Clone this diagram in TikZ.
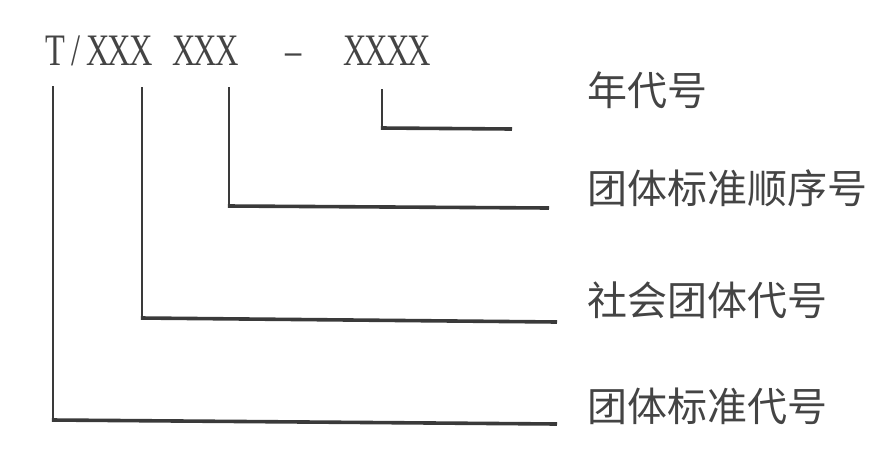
\documentclass[tikz,border=0pt]{standalone}
\usepackage{fontspec}
\usepackage{tikz}
\newfontfamily\cjk{Noto Sans CJK SC}
\newfontfamily\codefont[FakeStretch=0.72]{Liberation Serif}
\newcommand{\cell}[1]{\makebox[21.5pt]{#1}}
\definecolor{ink}{HTML}{444444}
\definecolor{rule}{HTML}{3A3A3A}

\begin{document}
\begin{tikzpicture}[x=1pt,y=-1pt,
    code/.style={inner sep=0pt,anchor=base west,text=ink,font=\codefont\fontsize{45}{45}\selectfont},
    lab/.style={inner sep=0pt,anchor=west,text=ink,font=\cjk\fontsize{40}{40}\selectfont},
    vline/.style={draw=rule,line width=2.2pt},
    hline/.style={draw=rule,line width=3.6pt}]
            \useasboundingbox (0,0) rectangle (895,467);
            % code
            \node[code] (std) at (44,65) {\cell{T}\cell{/}\cell{X}\cell{X}\cell{X}};
            \node[code] (seq) at (173,65) {\cell{X}\cell{X}\cell{X}};
            \node[code] (dash) at (283,65) {\cell{–}};
            \node[code] (year) at (344,65) {\cell{X}\cell{X}\cell{X}\cell{X}};
            % labels
            \node[lab] (yrlab) at (587,90) {年代号};
            \node[lab] (seqlab) at (587,188) {团体标准顺序号};
            \node[lab] (soclab) at (587,300) {社会团体代号};
            \node[lab] (stdlab) at (587,406) {团体标准代号};
            % lines
            \coordinate (t1) at (53,86);  \coordinate (c1) at (53,420);  \coordinate (e1) at (557,424);
            \coordinate (t2) at (142,87); \coordinate (c2) at (142,318); \coordinate (e2) at (557,322);
            \coordinate (t3) at (229,87); \coordinate (c3) at (229,206); \coordinate (e3) at (549,208);
            \coordinate (t4) at (382,89); \coordinate (c4) at (382,128); \coordinate (e4) at (512,129);
            \foreach \i in {1,...,4} {
                \draw[vline] (t\i) -- (c\i);
                \draw[hline] ([xshift=-1.1pt]c\i) -- (e\i);
            }
        \end{tikzpicture}
\end{document}
